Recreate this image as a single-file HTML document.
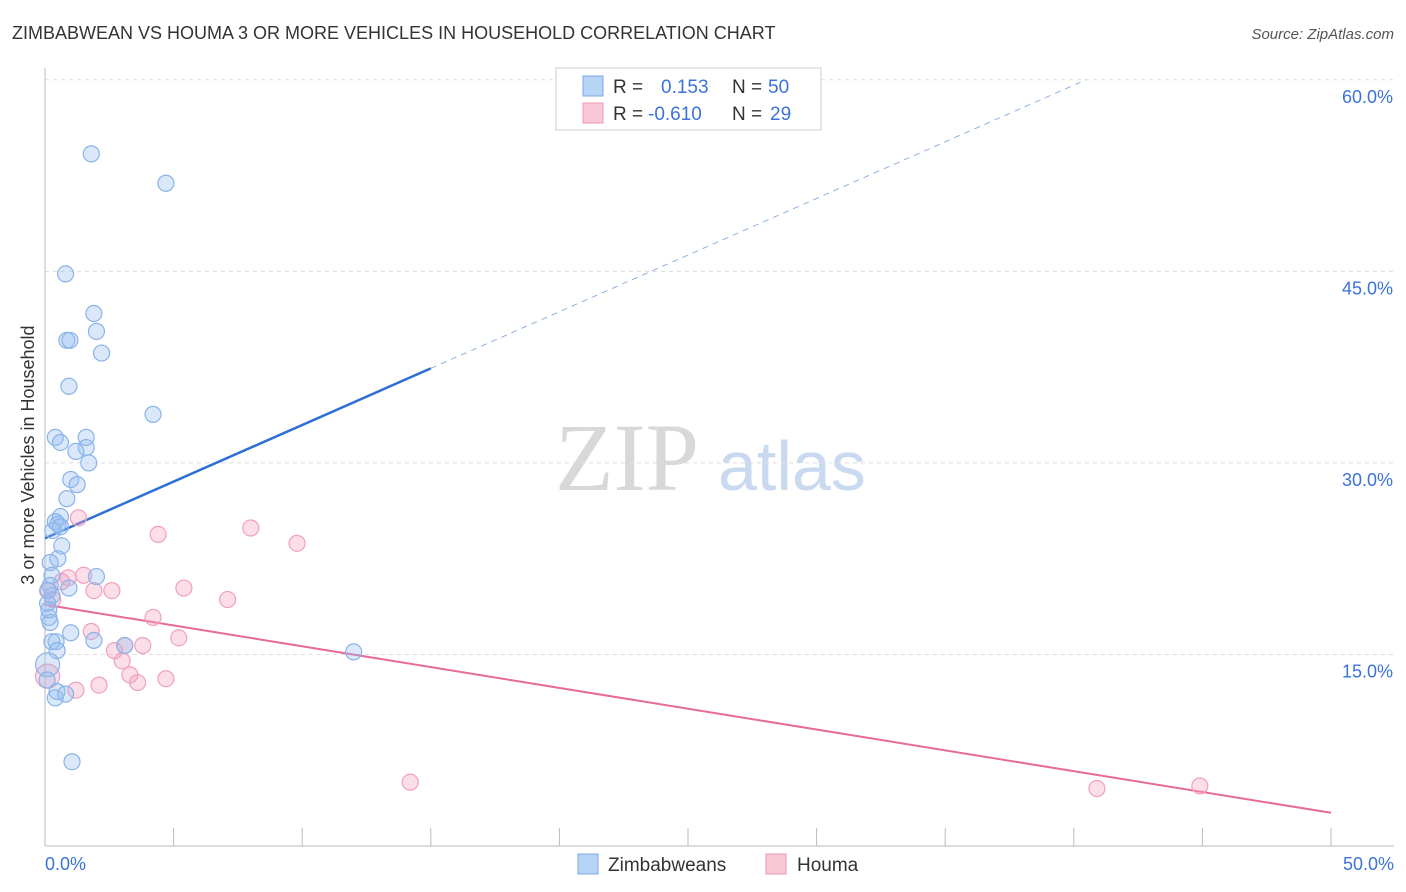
<!DOCTYPE html>
<html><head><meta charset="utf-8"><style>
body{margin:0;background:#fff;font-family:"Liberation Sans",sans-serif}
svg{display:block}
</style></head><body>
<svg id="chart" width="1406" height="892">
<text x="12" y="39" font-size="18" fill="#333">ZIMBABWEAN VS HOUMA 3 OR MORE VEHICLES IN HOUSEHOLD CORRELATION CHART</text>
<text x="1394" y="39" font-size="15" fill="#555" font-style="italic" text-anchor="end">Source: ZipAtlas.com</text>
<text x="555" y="490" font-size="96" fill="#d8d8d8" font-family="Liberation Serif,serif">ZIP</text>
<text x="718" y="490" font-size="70" fill="#c9d9f0">atlas</text>
<g id="grid"></g><g id="axes"></g><g id="lines"></g><g id="pts"></g>
<text transform="translate(34,455) rotate(-90)" font-size="18" fill="#333" text-anchor="middle">3 or more Vehicles in Household</text>
<text x="45" y="870" font-size="18" fill="#3b73d9">0.0%</text>
<text x="1394" y="870" font-size="18" fill="#3b73d9" text-anchor="end">50.0%</text>
<g>
<rect x="556" y="68" width="265" height="62" fill="#fff" stroke="#ccc"/>
<rect x="583" y="76" width="20" height="20" fill="#b8d4f5" stroke="#7aa7e6"/>
<rect x="583" y="103" width="20" height="20" fill="#f9c8d7" stroke="#ef9ab4"/>
<text x="613" y="93" font-size="19" fill="#333">R = <tspan fill="#3b73d9" x="661">0.153</tspan><tspan fill="#333" x="732">N = </tspan><tspan fill="#3b73d9" x="768">50</tspan></text>
<text x="613" y="120" font-size="19" fill="#333">R = <tspan fill="#3b73d9" x="648">-0.610</tspan><tspan fill="#333" x="732">N = </tspan><tspan fill="#3b73d9" x="770">29</tspan></text>
</g>
<g>
<rect x="578" y="854" width="20" height="20" fill="#b8d4f5" stroke="#7aa7e6"/>
<text x="608" y="871" font-size="19" fill="#333">Zimbabweans</text>
<rect x="766" y="854" width="20" height="20" fill="#f9c8d7" stroke="#ef9ab4"/>
<text x="797" y="871" font-size="19" fill="#333">Houma</text>
</g>
</svg>
<script>
const yTicks=[15,30,45,60];
const xTicks=[0,5,10,15,20,25,30,35,40,45,50];
const blueX=[1.8,4.7,0.8,1.9,2.0,0.85,0.97,2.2,0.93,4.2,0.4,0.6,1.6,1.6,1.2,1.7,1.0,1.25,0.85,0.6,0.4,0.5,0.6,0.65,0.5,0.2,0.27,2.0,0.2,0.93,0.27,0.1,0.15,0.2,1.0,1.9,0.27,0.43,3.1,0.47,12.0,0.1,0.47,0.4,0.8,1.05,0.08,0.15,0.3,0.12];
const blueY=[54.2,51.9,44.8,41.7,40.3,39.6,39.6,38.6,36.0,33.8,32.0,31.6,32.0,31.2,30.9,30.0,28.7,28.3,27.2,25.8,25.4,25.2,25.0,23.5,22.5,22.2,21.2,21.1,20.4,20.2,19.6,19.0,17.9,17.5,16.7,16.1,16.0,16.0,15.7,15.3,15.2,14.2,12.1,11.6,11.9,6.6,13.0,18.5,24.7,20.0];
const pinkX=[1.3,4.4,8.0,9.8,1.5,0.9,0.65,5.4,1.9,2.6,7.1,0.3,4.2,1.8,5.2,3.1,3.8,2.7,3.0,3.3,3.6,4.7,2.1,1.2,0.1,14.2,40.9,44.9,0.1];
const pinkY=[25.7,24.4,24.9,23.7,21.2,21.0,20.7,20.2,20.0,20.0,19.3,19.3,17.9,16.8,16.3,15.7,15.7,15.3,14.5,13.4,12.8,13.1,12.6,12.2,13.3,5.0,4.5,4.7,20.0];
const blueTrend=[24.1,0.887]; // intercept, slope
const pinkTrend=[18.9,-0.326];
const X=v=>45+v*25.72, Y=v=>846-v*12.77;
const NS="http://www.w3.org/2000/svg";
function mk(p,t,a){const e=document.createElementNS(NS,t);for(const k in a)e.setAttribute(k,a[k]);document.getElementById(p).appendChild(e);return e;}
yTicks.forEach(t=>{
 const l=mk('grid','line',{x1:45,x2:1394,y1:Y(t),y2:Y(t),stroke:'#ddd','stroke-dasharray':'4,4'});
 
 
 const tx=mk('grid','text',{x:1393,y:Y(t)+23,'font-size':18,fill:'#3b73d9','text-anchor':'end'});tx.textContent=t.toFixed(1)+'%';
 
 
});
const ax=mk('axes','line',{x1:45,x2:45,y1:68,y2:846,stroke:'#bbb'});


const bx=mk('axes','line',{x1:45,x2:1394,y1:846,y2:846,stroke:'#bbb'});


xTicks.forEach(t=>{const l=mk('axes','line',{x1:X(t),x2:X(t),y1:828,y2:846,stroke:'#bbb'});
 
 });
const yEnd=(60-blueTrend[0])/blueTrend[1];
const bl=mk('lines','line',{x1:X(0),y1:Y(blueTrend[0]),x2:X(15),y2:Y(blueTrend[0]+15*blueTrend[1]),stroke:'#2c6fd6','stroke-width':2.5});


const bd=mk('lines','line',{x1:X(15),y1:Y(blueTrend[0]+15*blueTrend[1]),x2:X(yEnd),y2:Y(60),stroke:'#8fb0e3','stroke-width':1,'stroke-dasharray':'6,5'});


const pl=mk('lines','line',{x1:X(0),y1:Y(pinkTrend[0]),x2:X(50),y2:Y(pinkTrend[0]+50*pinkTrend[1]),stroke:'#e86a98','stroke-width':2});


pinkX.forEach((x,i)=>{const c=mk('pts','circle',{cx:X(x),cy:Y(pinkY[i]),r:i==24?12:8,fill:'rgba(245,160,190,0.35)',stroke:'#f0a0bc','stroke-width':1.2});
 
 });
blueX.forEach((x,i)=>{const c=mk('pts','circle',{cx:X(x),cy:Y(blueY[i]),r:i==41?12:8,fill:'rgba(150,190,240,0.35)',stroke:'#8ab3e8','stroke-width':1.2});
 
 });
</script>
</body></html>
